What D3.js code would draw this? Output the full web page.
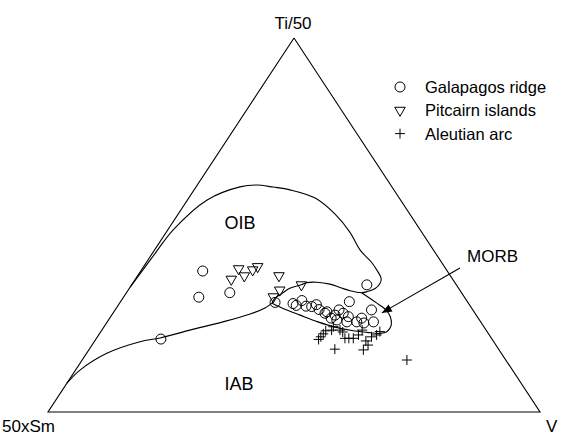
<!DOCTYPE html>
<html>
<head>
<meta charset="utf-8">
<script src="https://cdn.jsdelivr.net/npm/d3@7"></script>
<style>
  body { margin: 0; background: #fff; }
  svg { display: block; font-family: "Liberation Sans", Arial, sans-serif; }
</style>
</head>
<body>
<script>
// Ternary values in percent: [Ti/50, 50xSm, V]
const galapagos = [
  [37.7, 49.7, 12.6], [30.7, 54.0, 15.3], [31.9, 47.1, 21.0], [19.5, 67.3, 13.2],
  [29.3, 39.2, 31.5], [29.0, 35.7, 35.3], [28.5, 35.3, 36.2], [29.8, 33.5, 36.7],
  [28.3, 33.4, 38.3], [28.2, 32.3, 39.5], [28.7, 31.1, 40.2], [27.4, 31.2, 41.4],
  [26.8, 29.9, 43.3], [25.9, 28.7, 45.4], [26.4, 26.8, 46.8], [25.5, 26.2, 48.3],
  [29.5, 24.0, 46.5], [24.1, 25.2, 50.7], [25.1, 23.7, 51.2], [34.0, 18.2, 47.8],
  [27.3, 20.6, 52.1], [24.1, 21.8, 54.1], [24.1, 27.2, 48.7], [26.4, 30.5, 43.1],
  [24.6, 29.0, 46.4], [23.8, 23.9, 52.3], [27.3, 27.2, 45.5], [25.1, 29.9, 45.0]
];
const pitcairn = [
  [35.5, 45.0, 19.5], [38.3, 42.1, 19.6], [36.4, 41.9, 21.7], [38.0, 39.4, 22.6],
  [38.9, 38.0, 23.2], [36.4, 34.8, 28.7], [32.6, 36.6, 30.8], [30.8, 38.8, 30.4],
  [34.0, 31.5, 34.5]
];
const aleutian = [
  [22.8, 30.6, 46.6], [21.9, 31.4, 46.7], [21.7, 32.7, 45.6], [20.9, 33.6, 45.5],
  [19.4, 35.3, 45.3], [20.1, 34.5, 45.4], [16.8, 33.3, 49.9], [19.7, 29.8, 50.5],
  [19.7, 29.0, 51.3], [19.7, 28.1, 52.2], [20.6, 26.6, 52.8], [16.6, 27.6, 55.8],
  [17.9, 26.0, 56.1], [20.1, 24.2, 55.7], [20.6, 22.9, 56.5], [21.5, 21.8, 56.7],
  [13.9, 20.1, 66.0], [19.0, 25.9, 55.1], [21.4, 29.4, 49.2], [21.9, 25.2, 52.9],
  [21.9, 29.7, 48.4]
];

// field boundaries
const oibBoundary = [
  [33.4, 66.6, 0.0], [41.2, 58.3, 0.5], [48.7, 50.2, 1.1], [56.7, 39.3, 4.0],
  [60.2, 30.9, 8.9], [60.7, 27.2, 12.1], [60.2, 24.2, 15.7], [59.4, 21.1, 19.5],
  [57.2, 17.1, 25.7], [52.9, 15.2, 31.9], [48.1, 14.6, 37.3], [43.3, 14.9, 41.8],
  [39.8, 14.2, 45.9], [37.4, 14.2, 48.4], [35.8, 14.4, 49.8], [34.4, 15.3, 50.3],
  [33.0, 17.0, 50.0], [32.2, 19.1, 48.8], [31.9, 20.3, 47.8], [32.4, 22.4, 45.2],
  [33.3, 24.0, 42.7], [34.2, 25.6, 40.2], [34.7, 28.0, 37.3], [34.6, 30.1, 35.3],
  [34.0, 31.5, 34.5], [33.1, 34.3, 32.6], [31.7, 36.6, 31.7], [30.4, 38.7, 30.9],
  [29.1, 39.9, 31.0]
];
const iabBoundary = [
  [7.7, 92.3, 0.0], [11.2, 87.9, 0.9], [15.7, 80.2, 4.1], [18.8, 71.9, 9.3],
  [19.8, 67.3, 12.9], [21.9, 60.2, 17.9], [24.1, 52.4, 23.5], [26.2, 45.8, 28.0],
  [27.8, 42.0, 30.2], [29.1, 39.9, 31.0]
];
const morbBoundary = [
  [29.1, 39.9, 31.0], [27.5, 38.1, 34.4], [25.9, 35.8, 38.3], [24.1, 33.1, 42.8],
  [22.7, 30.3, 47.0], [21.8, 27.3, 50.9], [21.3, 24.5, 54.2], [21.0, 22.2, 56.8],
  [21.5, 20.3, 58.1], [23.3, 18.6, 58.2], [25.4, 17.7, 56.9], [27.1, 17.6, 55.2],
  [29.1, 18.6, 52.3], [31.9, 20.3, 47.8]
];
const morbArrowTip = [26.5, 18.9, 54.6];

const apexLabels = ["Ti/50", "50xSm", "V"];
const fieldLabels = ["OIB", "IAB", "MORB"];
const seriesNames = ["Galapagos ridge", "Pitcairn islands", "Aleutian arc"];

const w = 576, h = 438;
const svg = d3.select("body").append("svg")
  .attr("width", w).attr("height", h)
  .attr("viewBox", [0, 0, w, h]);

// Cartesian frame of the triangle: x = V + Ti/2, y = Ti
const x = d3.scaleLinear().domain([0, 1]).range([48, 540]);
const y = d3.scaleLinear().domain([0, 1]).range([412, 38]);
function proj(d) {
  const s = d[0] + d[1] + d[2];
  const ti = d[0] / s, v = d[2] / s;
  return [x(v + ti / 2), y(ti)];
}

// frame
const corners = [[100, 0, 0], [0, 100, 0], [0, 0, 100]].map(proj);
svg.append("path")
  .attr("d", d3.line()([...corners, corners[0]]))
  .attr("fill", "none").attr("stroke", "#000").attr("stroke-width", 1.1);

// field boundaries
const curve = d3.line().x(d => proj(d)[0]).y(d => proj(d)[1]).curve(d3.curveCatmullRom.alpha(0.5));
[oibBoundary, iabBoundary, morbBoundary].forEach(b => {
  svg.append("path").attr("d", curve(b))
    .attr("fill", "none").attr("stroke", "#000").attr("stroke-width", 1.1);
});

// markers
const markStyle = sel => sel.attr("fill", "none").attr("stroke", "#000").attr("stroke-width", 1);
const tri = d3.symbol(d3.symbolTriangle, 48)();
const plus = "M-5,0H5M0,-5V5";

markStyle(svg.append("g").selectAll("circle").data(galapagos).join("circle")
  .attr("cx", d => proj(d)[0]).attr("cy", d => proj(d)[1]).attr("r", 5));
markStyle(svg.append("g").selectAll("path").data(pitcairn).join("path")
  .attr("d", tri)
  .attr("transform", d => `translate(${proj(d)}) rotate(180)`));
markStyle(svg.append("g").selectAll("path").data(aleutian).join("path")
  .attr("d", plus)
  .attr("transform", d => `translate(${proj(d)})`));

// apex labels
svg.append("text").attr("x", corners[0][0] - 1).attr("y", corners[0][1] - 9)
  .attr("text-anchor", "middle").attr("font-size", 17).text(apexLabels[0]);
svg.append("text").attr("x", 2).attr("y", corners[1][1] + 20)
  .attr("font-size", 17).text(apexLabels[1]);
svg.append("text").attr("x", corners[2][0] + 6).attr("y", corners[2][1] + 20)
  .attr("font-size", 17).text(apexLabels[2]);

// field labels
svg.append("text").attr("x", 240).attr("y", 229).attr("text-anchor", "middle")
  .attr("font-size", 18).text(fieldLabels[0]);
svg.append("text").attr("x", 239).attr("y", 390).attr("text-anchor", "middle")
  .attr("font-size", 18).text(fieldLabels[1]);
svg.append("text").attr("x", 467).attr("y", 262)
  .attr("font-size", 17).text(fieldLabels[2]);

// arrow to the MORB field
svg.append("defs").append("marker")
  .attr("id", "head").attr("viewBox", "0 -5 10 10")
  .attr("refX", 10).attr("refY", 0)
  .attr("markerWidth", 14).attr("markerHeight", 10)
  .attr("markerUnits", "userSpaceOnUse")
  .attr("orient", "auto")
  .append("path").attr("d", "M0,-4L10,0L0,4Z").attr("fill", "#000");
const tip = proj(morbArrowTip);
svg.append("line")
  .attr("x1", 460).attr("y1", 268).attr("x2", tip[0]).attr("y2", tip[1])
  .attr("stroke", "#000").attr("stroke-width", 1.1)
  .attr("marker-end", "url(#head)");

// legend
const legend = svg.append("g").attr("transform", "translate(400,87)");
const rows = legend.selectAll("g").data(seriesNames).join("g")
  .attr("transform", (d, i) => `translate(0,${i * 23.3})`);
rows.append("text").attr("x", 25).attr("y", 6).attr("font-size", 16.5).text(d => d);
markStyle(rows.filter((d, i) => i === 0).append("circle").attr("r", 5));
markStyle(rows.filter((d, i) => i === 1).append("path").attr("d", tri).attr("transform", "rotate(180)"));
markStyle(rows.filter((d, i) => i === 2).append("path").attr("d", plus));
</script>
</body>
</html>
